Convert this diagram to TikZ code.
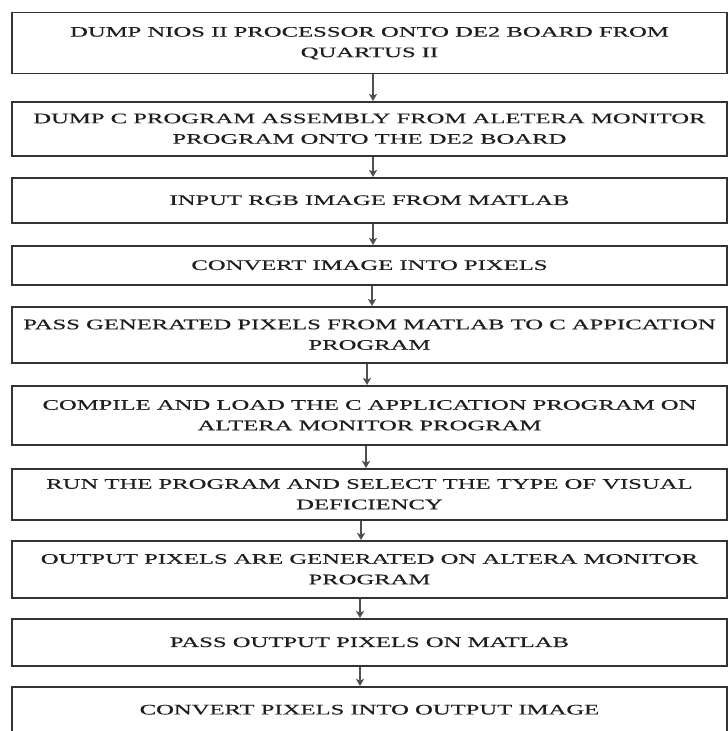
\documentclass[tikz,border=0pt]{standalone}
\usepackage{fontspec}
\setmainfont{Liberation Serif}[FakeStretch=1.7, FakeBold=0.2]
\usepackage{tikz}
\usetikzlibrary{positioning,arrows.meta}

\definecolor{boxline}{HTML}{333333}
\definecolor{arrowline}{HTML}{505050}
\definecolor{boxtext}{HTML}{1E1E1E}

\begin{document}
\begin{tikzpicture}[x=1bp, y=1bp]
    \tikzset{
        flowbox/.style = {rectangle, draw=boxline, line width=1.5bp, minimum width=715bp, inner xsep=2bp, inner ysep=1bp,
                          align=center, text=boxtext, font=\fontsize{14.5bp}{20.5bp}\selectfont},
        arrow/.style = {draw=arrowline, line width=1.6bp, -{Stealth[length=7bp, width=8bp, inset=1.5bp]}}
    }
    \path[use as bounding box, fill=white] (0,0) rectangle (728,-731);

    \node (nios) [flowbox, minimum height=61bp, anchor=north] at (369.5,-12) {DUMP NIOS II PROCESSOR ONTO DE2 BOARD FROM\\QUARTUS II};
    \node (asm) [flowbox, minimum height=54bp, below=26.5bp of nios] {DUMP C PROGRAM ASSEMBLY FROM ALETERA MONITOR\\PROGRAM ONTO THE DE2 BOARD};
    \node (rgbin) [flowbox, minimum height=45bp, below=20.5bp of asm] {INPUT RGB IMAGE FROM MATLAB};
    \node (topix) [flowbox, minimum height=39bp, below=21.5bp of rgbin] {CONVERT IMAGE INTO PIXELS};
    \node (passpix) [flowbox, minimum height=56bp, below=20.5bp of topix] {PASS GENERATED PIXELS FROM MATLAB TO C APPICATION\\PROGRAM};
    \node (compile) [flowbox, minimum height=59bp, below=21.5bp of passpix] {COMPILE AND LOAD THE C APPLICATION PROGRAM ON\\ALTERA MONITOR PROGRAM};
    \node (runprog) [flowbox, minimum height=51bp, below=22.5bp of compile] {RUN THE PROGRAM AND SELECT THE TYPE OF VISUAL\\DEFICIENCY};
    \node (outpix) [flowbox, minimum height=57bp, below=19.5bp of runprog] {OUTPUT PIXELS ARE GENERATED ON ALTERA MONITOR\\PROGRAM};
    \node (passout) [flowbox, minimum height=47bp, below=19.5bp of outpix] {PASS OUTPUT PIXELS ON MATLAB};
    \node (toimg) [flowbox, minimum height=46bp, below=19.5bp of passout] {CONVERT PIXELS INTO OUTPUT IMAGE};

    % arrows drift a little to the left going down
    \draw [arrow] ([xshift=3.5bp]nios.south) -- ([xshift=3.5bp]asm.north);
    \draw [arrow] ([xshift=3.5bp]asm.south) -- ([xshift=3.5bp]rgbin.north);
    \draw [arrow] ([xshift=3.5bp]rgbin.south) -- ([xshift=3.5bp]topix.north);
    \draw [arrow] ([xshift=2.5bp]topix.south) -- ([xshift=2.5bp]passpix.north);
    \draw [arrow] ([xshift=-2.5bp]passpix.south) -- ([xshift=-2.5bp]compile.north);
    \draw [arrow] ([xshift=-3.5bp]compile.south) -- ([xshift=-3.5bp]runprog.north);
    \draw [arrow] ([xshift=-8.5bp]runprog.south) -- ([xshift=-8.5bp]outpix.north);
    \draw [arrow] ([xshift=-9.5bp]outpix.south) -- ([xshift=-9.5bp]passout.north);
    \draw [arrow] ([xshift=-9.5bp]passout.south) -- ([xshift=-9.5bp]toimg.north);
\end{tikzpicture}
\end{document}
